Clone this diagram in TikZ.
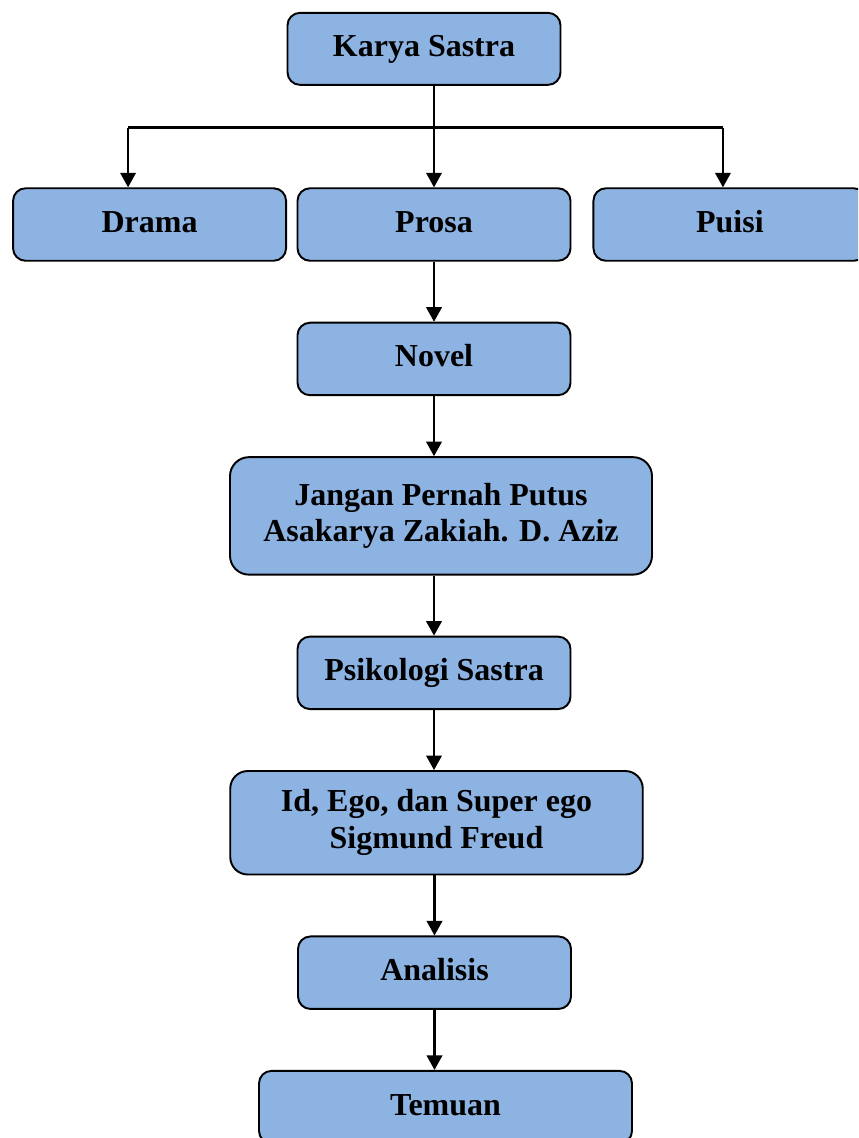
\documentclass[tikz,border=0pt]{standalone}
\usepackage{fontspec}
\setmainfont{Liberation Serif}
\usetikzlibrary{positioning,arrows.meta}
\definecolor{boxblue}{HTML}{8DB3E2}

\begin{document}
\begin{tikzpicture}[
  every node/.style={font=\bfseries\fontsize{18.2pt}{21pt}\selectfont},
  item/.style ={draw, line width=1.1pt, fill=boxblue, rounded corners=0.25cm,
                minimum width=5.46cm, minimum height=1.45cm,
                text height=14pt, text depth=5pt, align=center},
  wide/.style ={draw, line width=1.1pt, fill=boxblue, rounded corners=0.38cm,
                align=center},
  arr/.style  ={-{Triangle[length=0.29cm,width=0.31cm]}, line width=1.2pt},
  link/.style ={line width=1.2pt},
  node distance=1.2cm
]

\useasboundingbox (0,0) rectangle (17.16,-22.76);
\clip (0,0) rectangle (17.16,-22.76);

\node[item, minimum height=1.44cm] (karya) at (8.48,-0.977) {Karya Sastra};

\node[item, below=2.03 of karya, xshift=0.2cm] (prosa) {Prosa};
\node[item, left=0.19 of prosa]  (drama) {Drama};
\node[item, right=0.42 of prosa] (puisi) {Puisi};

\node[item, below=of prosa] (novel) {Novel};

\node[wide, below=of novel, xshift=0.14cm,
      minimum width=8.44cm, minimum height=2.35cm] (jangan)
     {Jangan Pernah Putus\\Asakarya Zakiah. D. Aziz};

\node[item, below=of jangan, xshift=-0.14cm] (psiko) {Psikologi Sastra};

\node[wide, below=of psiko, xshift=0.05cm,
      minimum width=8.25cm, minimum height=2.07cm, rounded corners=0.35cm] (idego)
     {Id, Ego, dan Super ego\\Sigmund Freud};

\node[item, below=of idego, xshift=-0.04cm] (analisis) {Analisis};

\node[item, below=of analisis, xshift=0.22cm, minimum width=7.46cm] (temuan) {Temuan};

% branch from Karya Sastra
\coordinate (split)    at ([yshift=-0.834cm]karya.south -| prosa.north);
\coordinate (dramatop) at ([xshift=-0.43cm]drama.north);
\coordinate (puisitop) at ([xshift=-0.14cm]puisi.north);

\draw[arr]  (karya.south -| prosa.north) -- (prosa.north);
\draw[link] (split -| dramatop) -- (split -| puisitop);
\draw[arr]  (split -| dramatop) -- (dramatop);
\draw[arr]  (split -| puisitop) -- (puisitop);

\draw[arr] (prosa) -- (novel);
\draw[arr] (novel.south) -- (novel.south |- jangan.north);
\draw[arr] (jangan.south -| psiko) -- (psiko.north);
\draw[arr] (psiko.south) -- (psiko.south |- idego.north);
\draw[arr] (idego.south -| analisis) -- (analisis.north);
\draw[arr] (analisis.south) -- (analisis.south |- temuan.north);

\end{tikzpicture}
\end{document}
